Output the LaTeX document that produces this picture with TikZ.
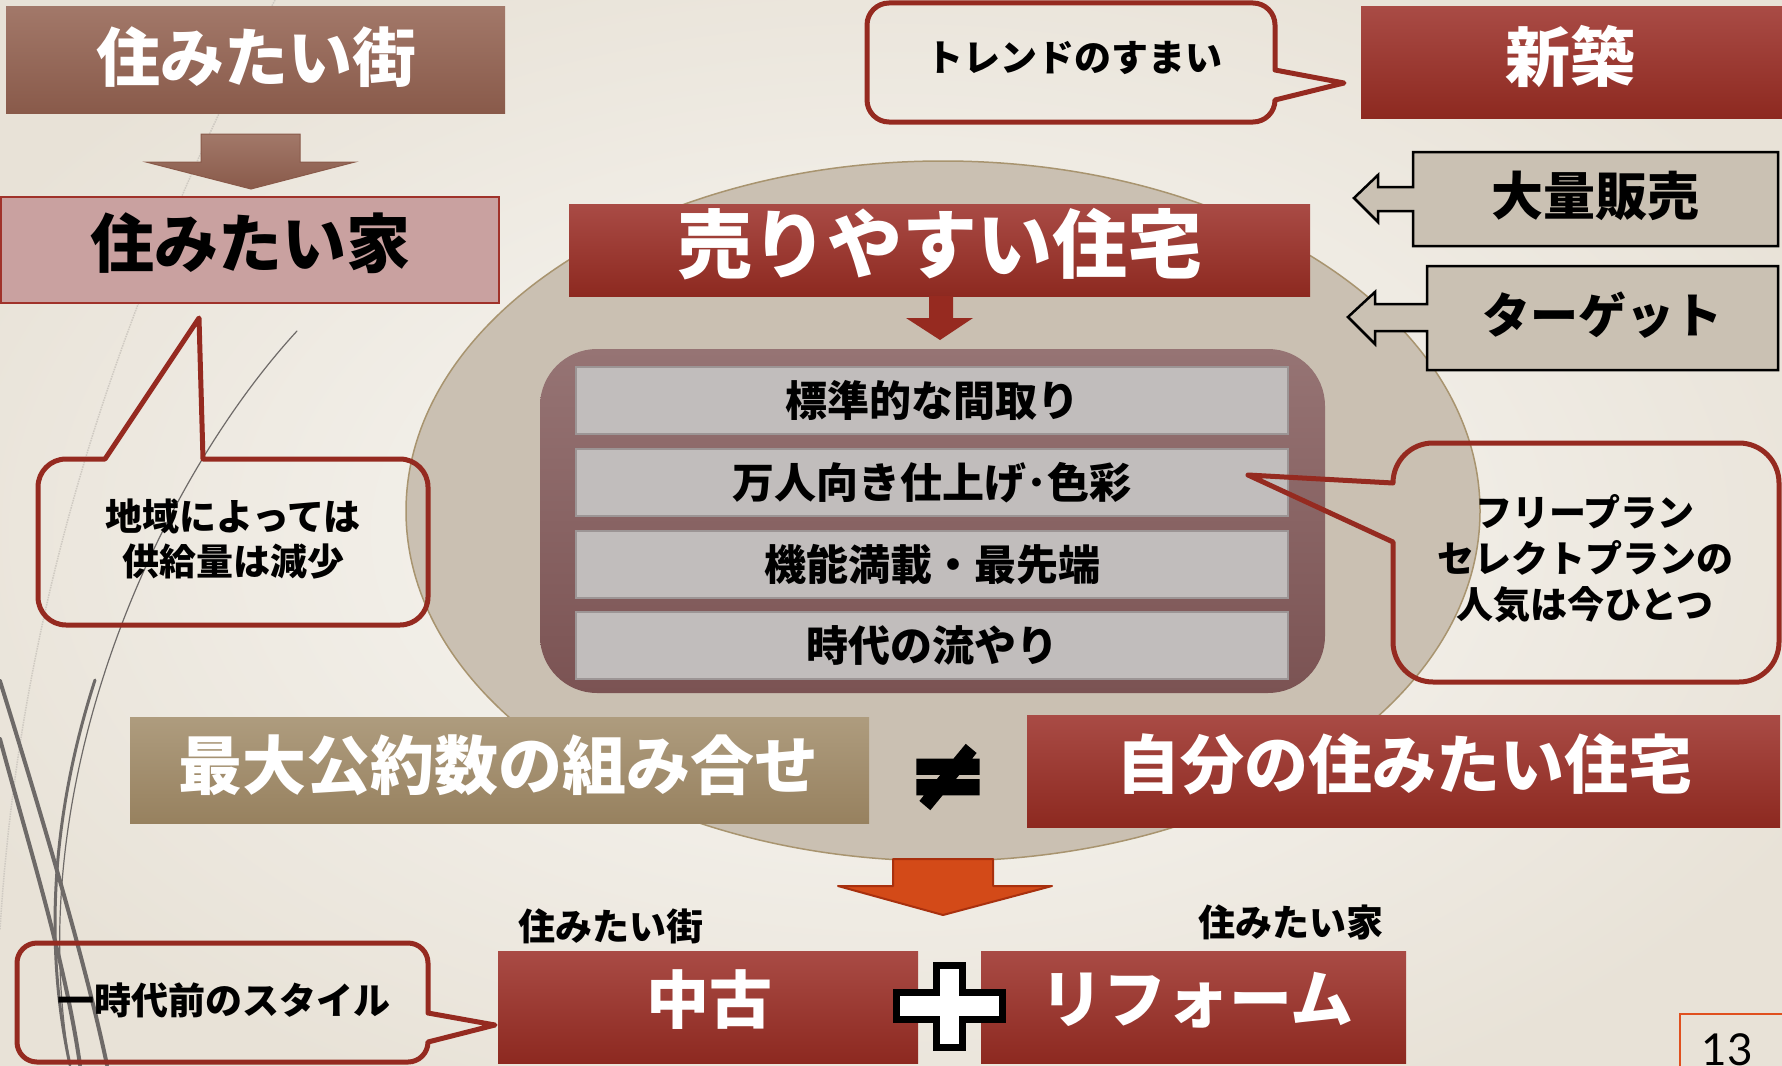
\documentclass[tikz,border=0pt]{standalone}
\usepackage{fontspec}
\setmainfont{Noto Sans CJK JP}
\newfontfamily\symfont{DejaVu Sans}[FakeBold=6]
\newfontfamily\numfont{Lato}
\usetikzlibrary{shapes.geometric}
\definecolor{bgin}{HTML}{FAF9F6}
\definecolor{bgout}{HTML}{E8E2D7}
\definecolor{redtop}{HTML}{A94B45}
\definecolor{redbot}{HTML}{8D2920}
\definecolor{brtop}{HTML}{A27869}
\definecolor{brbot}{HTML}{895A4A}
\definecolor{iefill}{HTML}{C9A1A0}
\definecolor{iedraw}{HTML}{A0322A}
\definecolor{tantop}{HTML}{AE9C7E}
\definecolor{tanbot}{HTML}{97815F}
\definecolor{ovalfill}{HTML}{CAC0B2}
\definecolor{ovaldraw}{HTML}{A8946F}
\definecolor{conttop}{HTML}{967474}
\definecolor{contbot}{HTML}{7B5353}
\definecolor{rowfill}{HTML}{C1BDBC}
\definecolor{rowdraw}{HTML}{9C9595}
\definecolor{calred}{HTML}{952A20}
\definecolor{tanbox}{HTML}{CAC1B3}
\definecolor{orfill}{HTML}{D34A18}
\definecolor{ordraw}{HTML}{A8300E}
\definecolor{arred}{HTML}{962A20}
\definecolor{decogrey}{HTML}{6E6A68}
\definecolor{faintgrey}{HTML}{CFCAC2}
\definecolor{pgred}{HTML}{E0501E}
\newcommand\jfs[1]{\fontsize{#1}{#1}\selectfont\bfseries}
\begin{document}
\begin{tikzpicture}[x=1pt,y=-1pt,
  plainbox/.style={inner sep=0pt, outer sep=0pt},
  redbox/.style={plainbox, top color=redtop, bottom color=redbot},
  whitetxt/.style={plainbox, text=white},
  blacktxt/.style={plainbox, text=black},
  rowbox/.style={plainbox, fill=rowfill, draw=rowdraw, line width=2, minimum width=712, minimum height=67, font=\jfs{42}},
  callout/.style={draw=calred, line width=5, line join=round},
  tanshape/.style={fill=tanbox, draw=black, line width=2.5},
  deco/.style={draw=decogrey, line cap=round}
  ]
\useasboundingbox (0,0) rectangle (1782,1065);
\shade[inner color=bgin, outer color=bgout] (-150,-100) rectangle (1932,1165);

% decorative curves
\draw[faintgrey, line width=1.5, densely dotted] (275,0) .. controls (120,300) and (20,600) .. (0,930);
\draw[deco, line width=1.2] (297,331) .. controls (160,480) and (20,780) .. (70,1065);
\draw[deco, line width=3] (95,680) .. controls (50,820) and (45,950) .. (70,1065);
\draw[deco, line width=4] (0,681) .. controls (40,810) and (85,960) .. (107,1065);
\draw[deco, line width=4] (0,739) .. controls (30,850) and (65,960) .. (80,1065);

% central ellipse
\node[ellipse, plainbox, fill=ovalfill, draw=ovaldraw, line width=1.5, minimum width=1074, minimum height=700] (oval) at (943,511) {};

% top left
\node[plainbox, top color=brtop, bottom color=brbot, minimum width=499, minimum height=106] (machiBox) at (255.5,60) {};
\node[whitetxt, font=\jfs{64}] (machiTxt) at (256,57) {住みたい街};
\draw[top color=brtop, bottom color=brbot, draw=brbot, line width=1] (201,134) -- (300,134) -- (300,162) -- (355,162) -- (251,189) -- (146,162) -- (201,162) -- cycle;
\node[plainbox, fill=iefill, draw=iedraw, line width=2, minimum width=498, minimum height=106] (ieBox) at (250,250) {};
\node[blacktxt, font=\jfs{64}] (ieTxt) at (250,243) {住みたい家};

% main title
\node[redbox, minimum width=741, minimum height=92] (uriBox) at (939.5,250) {};
\node[whitetxt, font=\jfs{75}] (uriTxt) at (940,244) {売りやすい住宅};
\fill[arred] (929,296) -- (953,296) -- (953,318) -- (973,318) -- (940,340) -- (906,318) -- (929,318) -- cycle;

% container and rows
\node[plainbox, rounded corners=57, top color=conttop, bottom color=contbot, minimum width=785, minimum height=344] (cont) at (932.5,521) {};
\node[rowbox] (row1) at (932,400.5) {標準的な間取り};
\node[rowbox] (row2) at (932,482.5) {万人向き仕上げ･色彩};
\node[rowbox] (row3) at (932,564.5) {機能満載・最先端};
\node[rowbox] (row4) at (932,645.5) {時代の流やり};

% top right
\node[redbox, minimum width=421, minimum height=111] (shinBox) at (1571.5,62.5) {};
\node[whitetxt, font=\jfs{65}] (shinTxt) at (1570,57) {新築};
\draw[tanshape] (1413,152) -- (1778,152) -- (1778,246) -- (1413,246) -- (1413,211) -- (1378,211) -- (1378,222) -- (1354,198) -- (1378,175) -- (1378,187) -- (1413,187) -- cycle;
\node[blacktxt, font=\jfs{52}] (tairyo) at (1595,196) {大量販売};
\draw[tanshape] (1427,266) -- (1778,266) -- (1778,370) -- (1427,370) -- (1427,331) -- (1375,331) -- (1375,344) -- (1348,317) -- (1375,292) -- (1375,304) -- (1427,304) -- cycle;
\node[blacktxt, font=\jfs{48}] (target) at (1602,315) {ターゲット};

% callouts
\draw[callout] (1275,100) arc[start angle=0,end angle=90,radius=22] -- (889,122) arc[start angle=90,end angle=180,radius=22] -- (867,25) arc[start angle=180,end angle=270,radius=22] -- (1253,3) arc[start angle=270,end angle=360,radius=22] -- (1275,70) -- (1344,83) -- cycle;
\node[blacktxt, font=\jfs{37}] (trend) at (1074,58) {トレンドのすまい};

\draw[callout] (203,459) -- (400,459) arc[start angle=270,end angle=360,radius=28] -- (428,597) arc[start angle=0,end angle=90,radius=28] -- (66,625) arc[start angle=90,end angle=180,radius=28] -- (38,487) arc[start angle=180,end angle=270,radius=28] -- (105,459) -- (199,318) -- cycle;
\node[blacktxt, font=\fontsize{37}{45}\selectfont\bfseries, align=center] (chiiki) at (233,539.5) {地域によっては\\供給量は減少};

\draw[callout] (1393,542) -- (1393,642) arc[start angle=180,end angle=90,radius=40] -- (1739,682) arc[start angle=90,end angle=0,radius=40] -- (1779,483) arc[start angle=0,end angle=-90,radius=40] -- (1433,443) arc[start angle=270,end angle=180,radius=40] -- (1248,475) -- cycle;
\node[blacktxt, font=\fontsize{37}{46}\selectfont\bfseries, align=center] (free) at (1585,559) {フリープラン\\セレクトプランの\\人気は今ひとつ};

\draw[callout] (428,1042) arc[start angle=0,end angle=90,radius=20] -- (37,1062) arc[start angle=90,end angle=180,radius=20] -- (17,963) arc[start angle=180,end angle=270,radius=20] -- (408,943) arc[start angle=270,end angle=360,radius=20] -- (428,1013) -- (495,1025) -- cycle;
\node[blacktxt, font=\jfs{37}] (ichi) at (224,1000) {一時代前のスタイル};

% comparison row
\node[plainbox, top color=tantop, bottom color=tanbot, minimum width=739, minimum height=106] (saiBox) at (499.5,770) {};
\node[whitetxt, font=\jfs{64}] (saiTxt) at (498,765) {最大公約数の組み合せ};
\node[blacktxt, font=\symfont\bfseries\fontsize{92}{92}\selectfont] (neq) at (948,777) {≠};
\node[redbox, minimum width=753, minimum height=112] (jibunBox) at (1403.5,771) {};
\node[whitetxt, font=\jfs{64}] (jibunTxt) at (1404,764) {自分の住みたい住宅};

% result arrow
\draw[fill=orfill, draw=ordraw, line width=2, line join=round] (893,859) -- (993,859) -- (993,886) -- (1052,886) -- (943,915) -- (838,886) -- (893,886) -- cycle;

% bottom
\node[blacktxt, font=\jfs{37}] (lblMachi) at (611,926) {住みたい街};
\node[blacktxt, font=\jfs{37}] (lblIe) at (1291,922) {住みたい家};
\node[redbox, minimum width=420, minimum height=112] (chukoBox) at (708,1007) {};
\node[whitetxt, font=\jfs{63}] (chukoTxt) at (709,1000) {中古};
\node[redbox, minimum width=425, minimum height=112] (reformBox) at (1193.5,1007) {};
\node[whitetxt, font=\jfs{63}] (reformTxt) at (1197,1000) {リフォーム};
\draw[fill=white, draw=black, line width=7, line join=miter] (936.5,965.5) -- (962.5,965.5) -- (962.5,992.5) -- (1002.5,992.5) -- (1002.5,1019.5) -- (962.5,1019.5) -- (962.5,1047.5) -- (936.5,1047.5) -- (936.5,1019.5) -- (896.5,1019.5) -- (896.5,992.5) -- (936.5,992.5) -- cycle;

% page number
\draw[pgred, line width=2] (1680,1075) -- (1680,1014) -- (1795,1014);
\node[blacktxt, font=\numfont\fontsize{44}{44}\selectfont] (pgnum) at (1727,1050) {13};
\end{tikzpicture}
\end{document}
